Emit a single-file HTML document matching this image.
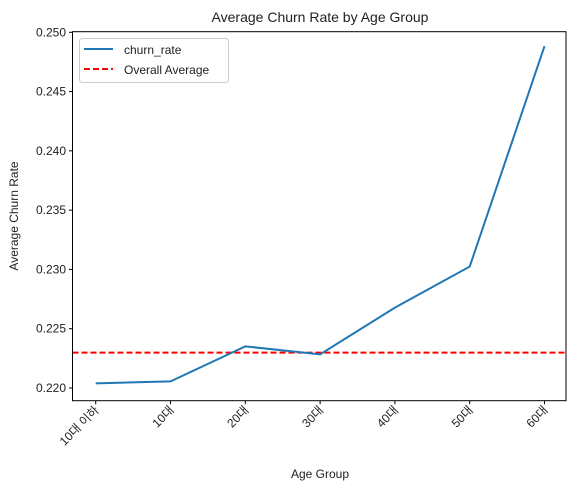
<!DOCTYPE html>
<html><head><meta charset="utf-8"><style>body{margin:0;background:#fff}svg{display:block}text{font-family:"Liberation Sans","Noto Sans CJK KR",sans-serif;fill:#222}</style></head>
<body>
<svg id="chart" width="578" height="492">
<text x="320" y="22" font-size="14" text-anchor="middle">Average Churn Rate by Age Group</text>
<text x="320" y="478" font-size="12" text-anchor="middle">Age Group</text>
<text transform="translate(18,216) rotate(-90)" font-size="12" text-anchor="middle">Average Churn Rate</text>
<g id="axes"></g>
<g id="marks"></g>
<rect x="72.5" y="31.7" width="493.5" height="369" fill="none" stroke="#000" stroke-width="1"/>
<g>
<rect x="79.5" y="38.5" width="149" height="44" rx="3" fill="#fff" fill-opacity="0.8" stroke="#ccc"/>
<line x1="84" y1="49" x2="113" y2="49" stroke="#1f77b4" stroke-width="2"/>
<text x="124" y="54" font-size="12">churn_rate</text>
<line x1="84" y1="69" x2="113" y2="69" stroke="red" stroke-width="2" stroke-dasharray="6,3"/>
<text x="124" y="74" font-size="12">Overall Average</text>
</g>
</svg>
<script>
const categories=["10대 이하","10대","20대","30대","40대","50대","60대"];
const churnRates=[0.22039,0.22056,0.22351,0.22284,0.22678,0.23024,0.24883];
const overallAverage=[0.22298];
const yTicks=[0.220,0.225,0.230,0.235,0.240,0.245,0.250];
const NS="http://www.w3.org/2000/svg";
const yMin=0.21893,yMax=0.25005,yTop=31.7,yBottom=400.7;
function yScale(v){return yBottom-(v-yMin)/(yMax-yMin)*(yBottom-yTop);}
function xScale(i){return 95.7+i*74.8;}
function mk(t,a,p){const e=document.createElementNS(NS,t);for(const k in a)e.setAttribute(k,a[k]);p.appendChild(e);return e;}
const axesG=document.getElementById('axes'),marksG=document.getElementById('marks');
yTicks.forEach(v=>{const y=yScale(v);
const l=mk('line',{x1:69,x2:72.5,y1:y,y2:y,stroke:'#000'},axesG);


const t=mk('text',{x:66,y:y+4,'font-size':12,'text-anchor':'end'},axesG);t.textContent=v.toFixed(3);

});
categories.forEach((c,i)=>{const x=xScale(i);
const l=mk('line',{x1:x,x2:x,y1:400.7,y2:404.2,stroke:'#000'},axesG);


const t=mk('text',{transform:`translate(${x+4},${411}) rotate(-45)`,'font-size':12,'text-anchor':'end'},axesG);t.textContent=c;

});
const ay=yScale(overallAverage[0]);
const av=mk('line',{x1:72.5,x2:566,y1:ay,y2:ay,stroke:'red','stroke-width':2,'stroke-dasharray':'6,3'},marksG);


const pl=mk('polyline',{points:churnRates.map((v,i)=>xScale(i)+','+yScale(v)).join(' '),fill:'none',stroke:'#1f77b4','stroke-width':2},marksG);


</script>
</body></html>
